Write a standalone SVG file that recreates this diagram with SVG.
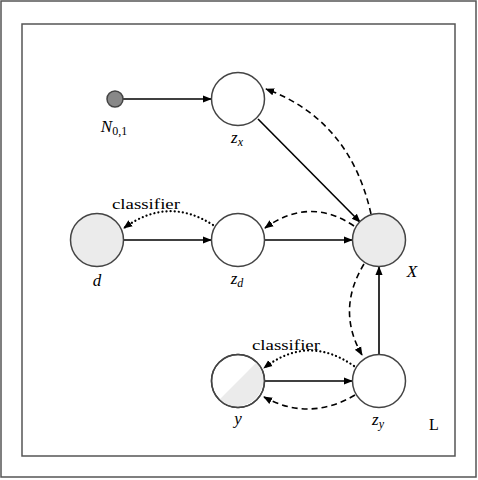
<svg xmlns="http://www.w3.org/2000/svg" width="478" height="480" viewBox="0 0 478 480">
<style>
.node{stroke:#444;stroke-width:1.5;fill:#fff}
.obs{fill:#ebebeb}
.lbl{font-family:"Liberation Serif","Times New Roman","DejaVu Serif",serif;font-style:italic;font-size:17px;fill:#000;text-anchor:middle}
.txt{font-family:"Liberation Serif","Times New Roman","DejaVu Serif",serif;font-size:15px;fill:#000;text-anchor:middle}
.e{fill:none;stroke:#000;stroke-width:1.6}
.dash{stroke-dasharray:6,4}
.dot{stroke-dasharray:0.1,4;stroke-linecap:round;stroke-width:2.2}
</style>
<defs>
<marker id="ah" viewBox="0 0 10 10" refX="9" refY="5" markerWidth="9" markerHeight="9" markerUnits="userSpaceOnUse" orient="auto">
<path d="M0,1 L10,5 L0,9 Z" fill="#000"/>
</marker>
</defs>
<rect x="1" y="1" width="475" height="476" fill="#fff" stroke="#555" stroke-width="1.5"/>
<rect x="22" y="24" width="433" height="432" fill="#fff" stroke="#555" stroke-width="1.5"/>
<g id="connectors">
<line class="e" x1="123" y1="99" x2="211" y2="99" marker-end="url(#ah)"/>
<line class="e" x1="258" y1="119" x2="360" y2="222" marker-end="url(#ah)"/>
<path class="e dash" d="M371,214 Q350,120 266,89" marker-end="url(#ah)"/>
<line class="e" x1="123" y1="240" x2="211" y2="240" marker-end="url(#ah)"/>
<line class="e" x1="265" y1="240" x2="352" y2="240" marker-end="url(#ah)"/>
<path class="e dash" d="M354,226 Q310,196 265,228" marker-end="url(#ah)"/>
<path class="e dot" d="M213,225 Q168,196 124,228" marker-end="url(#ah)"/>
<path class="e dash" d="M364,264 Q336,310 362,355" marker-end="url(#ah)"/>
<line class="e" x1="379" y1="354" x2="379" y2="267" marker-end="url(#ah)"/>
<line class="e" x1="265" y1="381" x2="352" y2="381" marker-end="url(#ah)"/>
<path class="e dot" d="M354,366 Q308,334 264,368" marker-end="url(#ah)"/>
<path class="e dash" d="M355,395 Q309,422 264,397" marker-end="url(#ah)"/>
<text class="txt" x="146" y="209" textLength="68" lengthAdjust="spacingAndGlyphs">classifier</text>
<text class="txt" x="286" y="350" textLength="68" lengthAdjust="spacingAndGlyphs">classifier</text>
</g>
<g id="node-N">
<circle cx="115" cy="99" r="8" fill="#888" stroke="#444" stroke-width="1.5"/>
<text class="lbl" x="114" y="132">N<tspan font-style="normal" font-size="12" dy="3">0,1</tspan></text>
</g>
<g id="node-zx">
<circle class="node" cx="238" cy="99" r="26.5"/>
<text class="lbl" x="237" y="143">z<tspan font-size="12" dy="3">x</tspan></text>
</g>
<g id="node-d">
<circle class="node obs" cx="97" cy="240" r="26.5"/>
<text class="lbl" x="97" y="286">d</text>
</g>
<g id="node-zd">
<circle class="node" cx="238" cy="240" r="26.5"/>
<text class="lbl" x="237" y="284">z<tspan font-size="12" dy="3">d</tspan></text>
</g>
<g id="node-X">
<circle class="node obs" cx="379" cy="240" r="26.5"/>
<text class="lbl" x="412" y="277">X</text>
</g>
<g id="node-y">
<circle class="node" cx="238" cy="381" r="26.5"/>
<path d="M219.3,399.7 A26.5,26.5 0 0 0 256.7,362.3 Z" fill="#ebebeb"/>
<circle cx="238" cy="381" r="26.5" fill="none" stroke="#444" stroke-width="1.5"/>
<text class="lbl" x="238" y="424">y</text>
</g>
<g id="node-zy">
<circle class="node" cx="379" cy="381" r="26.5"/>
<text class="lbl" x="378" y="425">z<tspan font-size="12" dy="3">y</tspan></text>
</g>
<g id="label-L">
<text class="txt" x="434" y="430" style="font-size:16px">L</text>
</g>
</svg>
